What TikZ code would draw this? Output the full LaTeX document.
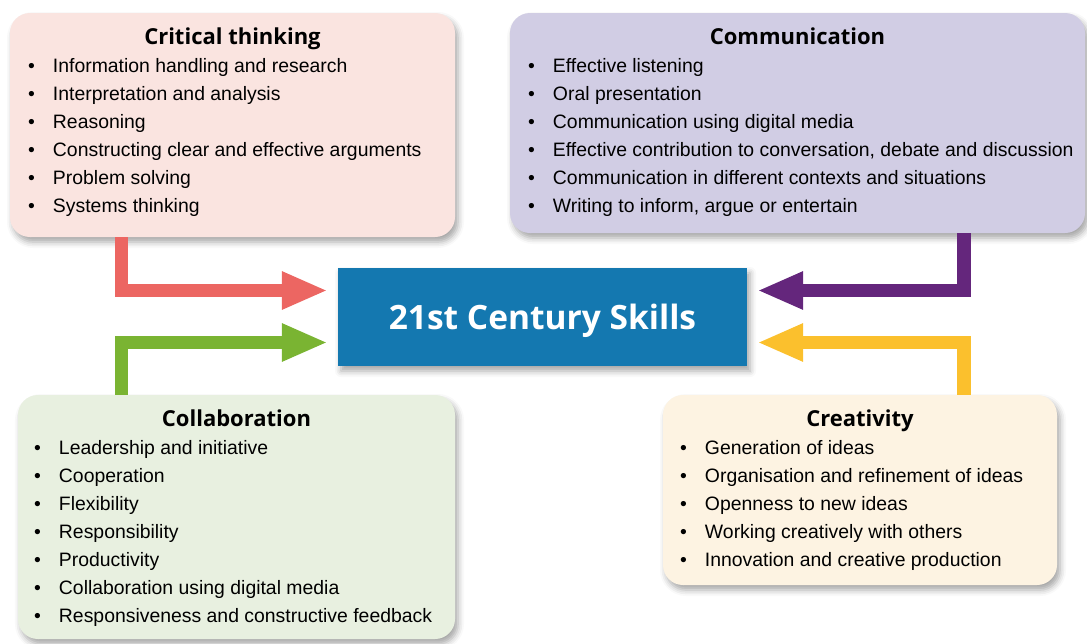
\documentclass[tikz,border=0pt]{standalone}
\usepackage{fontspec}
\setmainfont{Liberation Sans}
\newfontfamily\headfont{Open Sans}
\usetikzlibrary{arrows.meta,shadows.blur}

\definecolor{critfill}{HTML}{FAE4E0}
\definecolor{commfill}{HTML}{D1CDE4}
\definecolor{collabfill}{HTML}{E8F0E0}
\definecolor{creatfill}{HTML}{FDF3E2}
\definecolor{skillsblue}{HTML}{1478B0}
\definecolor{critred}{HTML}{EC6662}
\definecolor{collabgreen}{HTML}{7AB432}
\definecolor{commpurple}{HTML}{64267C}
\definecolor{creatyellow}{HTML}{FBC02D}

\newcommand\skillbullet{\llap{\textbullet\hspace{18pt}}}

\begin{document}
\begin{tikzpicture}[x=1pt,y=-1pt,
  softshadow/.style={blur shadow={shadow xshift=3pt,shadow yshift=-5pt,shadow blur radius=6pt,shadow opacity=35}},
  skillbox/.style={rounded corners=20pt,inner sep=0pt,softshadow},
  boxtitle/.style={anchor=base,inner sep=0pt,font=\headfont\bfseries\fontsize{22}{26}\selectfont},
  item/.style={anchor=base west,inner sep=0pt,font=\fontsize{19.4}{24}\selectfont},
  flow/.style={line width=13.5pt,line join=miter,-{Triangle[length=46pt,width=35pt]}}]
  \useasboundingbox (0,0) rectangle (1087,643);

  % Critical thinking
  \node[skillbox,fill=critfill,minimum width=445pt,minimum height=224pt] (crit) at (232.5,125) {};
  \node[boxtitle] (crit-title) at ([yshift=-32pt]crit.north) {Critical thinking};
  \foreach \txt [count=\i] in {Information handling and research, Interpretation and analysis,
      Reasoning, Constructing clear and effective arguments, Problem solving, Systems thinking}
    \node[item] (crit-\i) at ([xshift=43pt,yshift={-60pt-28pt*(\i-1)}]crit.north west) {\skillbullet\txt};

  % Communication
  \node[skillbox,fill=commfill,minimum width=575pt,minimum height=220pt] (comm) at (797.5,123) {};
  \node[boxtitle] (comm-title) at ([yshift=-32pt]comm.north) {Communication};
  \foreach \txt [count=\i] in {Effective listening, Oral presentation, Communication using digital media,
      {Effective contribution to conversation, debate and discussion},
      Communication in different contexts and situations, {Writing to inform, argue or entertain}}
    \node[item] (comm-\i) at ([xshift=43pt,yshift={-60pt-28pt*(\i-1)}]comm.north west) {\skillbullet\txt};

  % Collaboration
  \node[skillbox,fill=collabfill,minimum width=437pt,minimum height=244pt] (collab) at (236.5,517) {};
  \node[boxtitle] (collab-title) at ([yshift=-32pt]collab.north) {Collaboration};
  \foreach \txt [count=\i] in {Leadership and initiative, Cooperation, Flexibility, Responsibility,
      Productivity, Collaboration using digital media, Responsiveness and constructive feedback}
    \node[item] (collab-\i) at ([xshift=41pt,yshift={-60pt-28pt*(\i-1)}]collab.north west) {\skillbullet\txt};

  % Creativity
  \node[skillbox,fill=creatfill,minimum width=394pt,minimum height=190pt] (creat) at (860,490) {};
  \node[boxtitle] (creat-title) at ([yshift=-32pt]creat.north) {Creativity};
  \foreach \txt [count=\i] in {Generation of ideas, Organisation and refinement of ideas,
      Openness to new ideas, Working creatively with others, Innovation and creative production}
    \node[item] (creat-\i) at ([xshift=42pt,yshift={-60pt-28pt*(\i-1)}]creat.north west) {\skillbullet\txt};

  % Centre
  \node[fill=skillsblue,softshadow,minimum width=409pt,minimum height=98pt,text=white,
    text height=24pt,text depth=0pt,font=\headfont\bfseries\fontsize{33.5}{38}\selectfont]
    (skills) at (542.5,317) {21st Century Skills};

  % Feeds into the centre
  \draw[flow,critred] ([xshift=111.5pt]crit.south west) |- ([xshift=-10pt,yshift=26.5pt]skills.west);
  \draw[flow,collabgreen] ([xshift=103.5pt]collab.north west) |- ([xshift=-10pt,yshift=-25.5pt]skills.west);
  \draw[flow,commpurple] ([xshift=454pt]comm.south west) |- ([xshift=10pt,yshift=26.5pt]skills.east);
  \draw[flow,creatyellow] ([xshift=301pt]creat.north west) |- ([xshift=10pt,yshift=-25.5pt]skills.east);
\end{tikzpicture}
\end{document}
